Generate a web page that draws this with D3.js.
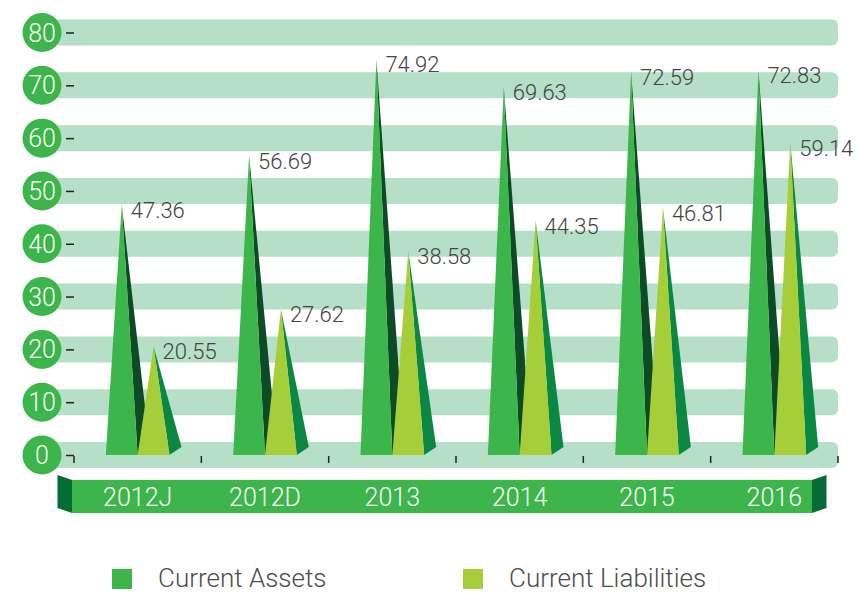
<!DOCTYPE html>
<html>
<head>
<meta charset="utf-8">
<script src="https://cdn.jsdelivr.net/npm/d3@7"></script>
<style>
  body { margin: 0; background: #fff; }
  svg text { font-family: "Helvetica Neue", Roboto, "Liberation Sans", sans-serif; font-weight: 300; }
</style>
</head>
<body>
<script>
// data
const categories = ["2012J", "2012D", "2013", "2014", "2015", "2016"];
const currentAssets = [47.36, 56.69, 74.92, 69.63, 72.59, 72.83];
const currentLiabilities = [20.55, 27.62, 38.58, 44.35, 46.81, 59.14];
const yTicks = [0, 10, 20, 30, 40, 50, 60, 70, 80];
const seriesNames = ["Current Assets", "Current Liabilities"];

const width = 857, height = 594;

const svg = d3.select("body")
    .append("svg")
    .attr("width", width)
    .attr("height", height);

// scales
const y = d3.scaleLinear()
    .domain([0, 80])
    .range([455, 32.5]);

const x = d3.scaleBand()
    .domain(categories)
    .range([74, 838]);

const spikeW = x.bandwidth() * 0.25;   // front face width
const side = {dx: 12, dy: -8};        // 3d side offset

// horizontal bands behind the grid
svg.append("g")
    .selectAll("rect")
    .data(yTicks)
    .join("rect")
    .attr("x", 52)
    .attr("y", d => y(d) - 13)
    .attr("width", 838 - 52)
    .attr("height", 26)
    .attr("rx", 6)
    .attr("fill", "#b5dfc6");

// y axis: small dashes
svg.append("g")
    .attr("transform", "translate(74,0)")
    .call(d3.axisLeft(y).tickValues(yTicks).tickSize(8).tickFormat(""))
    .call(g => g.select(".domain").remove())
    .call(g => g.selectAll(".tick line").attr("stroke", "#222").attr("stroke-width", 1.5));

// x axis ticks at band edges
const edges = categories.map(c => x(c)).concat([x.range()[1]]);
svg.append("g")
    .selectAll("line")
    .data(edges)
    .join("line")
    .attr("x1", d => d).attr("x2", d => d)
    .attr("y1", 456).attr("y2", 463)
    .attr("stroke", "#222")
    .attr("stroke-width", 1.5);

// y labels in circles
const yLab = svg.append("g")
    .selectAll("g")
    .data(yTicks)
    .join("g")
    .attr("transform", d => `translate(42,${y(d)})`);
yLab.append("circle")
    .attr("r", 19.5)
    .attr("fill", "#3cb54a");
yLab.append("text")
    .attr("text-anchor", "middle")
    .attr("dy", "0.36em")
    .attr("fill", "#fff")
    .attr("font-size", 25)
    .text(d => d);

// spikes
const base = y(0);
const groups = svg.append("g")
    .selectAll("g")
    .data(categories.map((c, i) => ({c, a: currentAssets[i], l: currentLiabilities[i]})))
    .join("g");

function center(d) { return x(d.c) + x.bandwidth() / 2; }

function sidePath(x0, x1, v) {
    const ax = (x0 + x1) / 2, ay = y(v);
    return `M${ax},${ay}L${x1},${base}L${x1 + side.dx},${base + side.dy}Z`;
}
function frontPath(x0, x1, v) {
    const ax = (x0 + x1) / 2, ay = y(v);
    return `M${ax},${ay}L${x1},${base}L${x0},${base}Z`;
}

groups.append("path")
    .attr("d", d => sidePath(center(d) - spikeW, center(d), d.a))
    .attr("fill", "#0c4b25");
groups.append("path")
    .attr("d", d => frontPath(center(d) - spikeW, center(d), d.a))
    .attr("fill", "#3cb54a");
groups.append("path")
    .attr("d", d => sidePath(center(d), center(d) + spikeW, d.l))
    .attr("fill", "#0a8843");
groups.append("path")
    .attr("d", d => frontPath(center(d), center(d) + spikeW, d.l))
    .attr("fill", "#a6ce39");

// value labels
groups.append("text")
    .attr("x", d => center(d) - spikeW / 2 + 9)
    .attr("y", d => y(d.a) + 13)
    .attr("fill", "#444")
    .attr("font-size", 22)
    .text(d => d.a.toFixed(2));
groups.append("text")
    .attr("x", d => center(d) + spikeW / 2 + 9)
    .attr("y", d => y(d.l) + 13)
    .attr("fill", "#444")
    .attr("font-size", 22)
    .text(d => d.l.toFixed(2));

// category bar under the chart
const barL = 72, barR = 812, barT = 480, barB = 513;
svg.append("path")
    .attr("d", `M${barL - 14.5},${barT - 5}L${barL},${barT}L${barL},${barB}L${barL - 14.5},${barB - 5}Z`)
    .attr("fill", "#056c36");
svg.append("path")
    .attr("d", `M${barR},${barT}L${barR + 14.5},${barT - 5}L${barR + 14.5},${barB - 5}L${barR},${barB}Z`)
    .attr("fill", "#056c36");
svg.append("rect")
    .attr("x", barL).attr("y", barT)
    .attr("width", barR - barL).attr("height", barB - barT)
    .attr("fill", "#3cb54a");

svg.append("g")
    .selectAll("text")
    .data(categories)
    .join("text")
    .attr("x", c => x(c) + x.bandwidth() / 2)
    .attr("y", (barT + barB) / 2)
    .attr("dy", "0.36em")
    .attr("text-anchor", "middle")
    .attr("fill", "#fff")
    .attr("font-size", 25)
    .text(c => c);

// legend
const legendColors = ["#3cb54a", "#a6ce39"];
const legendX = [112, 463];
const legend = svg.append("g")
    .selectAll("g")
    .data(seriesNames)
    .join("g")
    .attr("transform", (d, i) => `translate(${legendX[i]},569)`);
legend.append("rect")
    .attr("width", 20).attr("height", 20)
    .attr("fill", (d, i) => legendColors[i]);
legend.append("text")
    .attr("x", 46)
    .attr("y", 18)
    .attr("fill", "#4d4d4d")
    .attr("font-size", 26)
    .text(d => d);
</script>
</body>
</html>
